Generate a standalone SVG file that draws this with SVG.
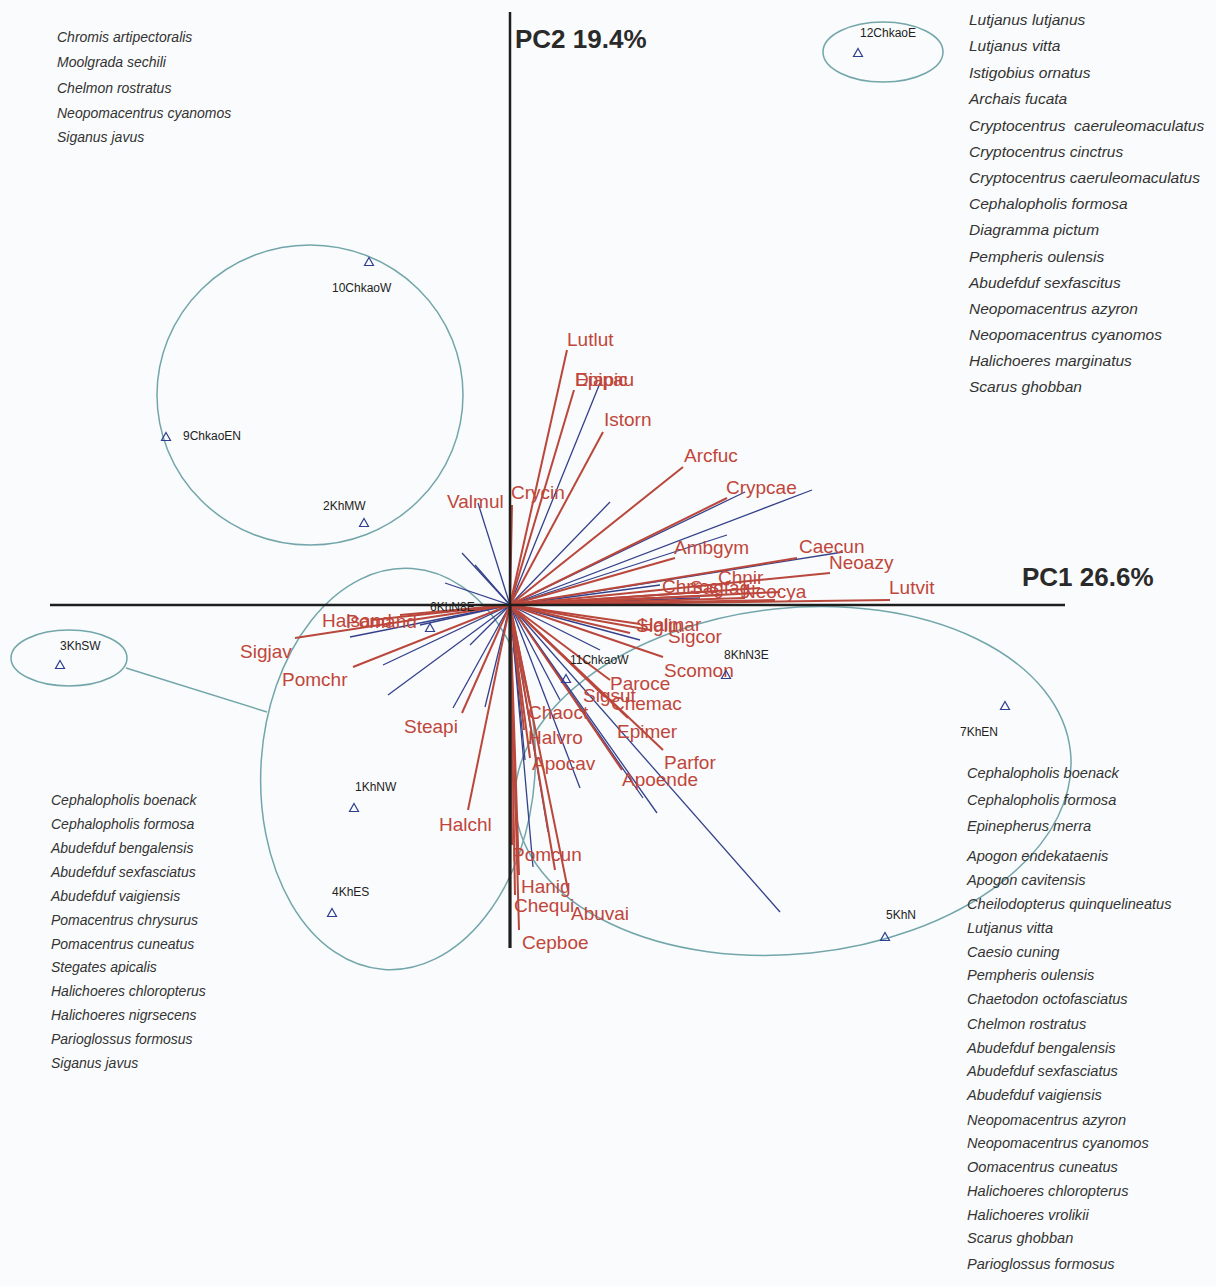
<svg xmlns="http://www.w3.org/2000/svg" xmlns:xlink="http://www.w3.org/1999/xlink" width="1216" height="1286" viewBox="0 0 1216 1286">
<style>
.bg{fill:#fafbfc}
.axis{stroke:#1e1e1e;stroke-width:2.5;fill:none}
.ell{fill:none;stroke:#72a6aa;stroke-width:1.5}
.rv{stroke:#b9473c;stroke-width:2}
.bv{stroke:#34418a;stroke-width:1.3}
.lab{font-family:"Liberation Sans",Arial,sans-serif;font-size:19px;fill:#c0463b}
.site{font-family:"Liberation Sans",Arial,sans-serif;font-size:12px;fill:#222}
.pc{font-family:"Liberation Sans",Arial,sans-serif;font-size:26px;font-weight:bold;fill:#2a2a2a}
.sp{font-family:"Liberation Sans",Arial,sans-serif;font-style:italic;font-size:14px;fill:#333}
.sp15{font-size:14.6px}
.sp16{font-size:15.5px}
.tri{fill:none;stroke:#2f3f8f;stroke-width:1.2}
</style>
<defs>
<path id="tri" class="tri" d="M0,-4.5 L4.5,3.5 L-4.5,3.5 Z"/>
</defs>
<rect class="bg" x="0" y="0" width="1216" height="1286"/>

<g id="groups">
<ellipse class="ell" cx="310" cy="395" rx="153" ry="150"/>
<ellipse class="ell" cx="883" cy="52" rx="60" ry="30"/>
<ellipse class="ell" cx="69" cy="658" rx="58" ry="28"/>
<line class="ell" x1="126" y1="668" x2="267" y2="712"/>
<ellipse class="ell" cx="398" cy="769" rx="137" ry="201" transform="rotate(4 398 769)"/>
<ellipse class="ell" cx="793" cy="781" rx="279" ry="173" transform="rotate(-6 793 781)"/>
</g>

<g id="connectors">
<!-- blue vectors -->
<line class="bv" x1="510" y1="605" x2="600" y2="383"/>
<line class="bv" x1="510" y1="605" x2="610" y2="502"/>
<line class="bv" x1="510" y1="605" x2="727" y2="535"/>
<line class="bv" x1="510" y1="605" x2="745" y2="492"/>
<line class="bv" x1="510" y1="605" x2="812" y2="490"/>
<line class="bv" x1="510" y1="605" x2="843" y2="552"/>
<line class="bv" x1="510" y1="605" x2="478" y2="503"/>
<line class="bv" x1="510" y1="605" x2="462" y2="553"/>
<line class="bv" x1="510" y1="605" x2="445" y2="583"/>
<line class="bv" x1="510" y1="605" x2="475" y2="565"/>
<line class="bv" x1="510" y1="605" x2="700" y2="598"/>
<line class="bv" x1="510" y1="605" x2="660" y2="585"/>
<line class="bv" x1="510" y1="605" x2="350" y2="637"/>
<line class="bv" x1="510" y1="605" x2="383" y2="665"/>
<line class="bv" x1="510" y1="605" x2="388" y2="695"/>
<line class="bv" x1="510" y1="605" x2="453" y2="708"/>
<line class="bv" x1="510" y1="605" x2="485" y2="707"/>
<line class="bv" x1="510" y1="605" x2="420" y2="625"/>
<line class="bv" x1="510" y1="605" x2="470" y2="645"/>
<line class="bv" x1="510" y1="605" x2="780" y2="912"/>
<line class="bv" x1="510" y1="605" x2="657" y2="813"/>
<line class="bv" x1="510" y1="605" x2="643" y2="798"/>
<line class="bv" x1="510" y1="605" x2="580" y2="788"/>
<line class="bv" x1="510" y1="605" x2="548" y2="832"/>
<line class="bv" x1="510" y1="605" x2="533" y2="867"/>
<line class="bv" x1="510" y1="605" x2="600" y2="650"/>
<line class="bv" x1="510" y1="605" x2="640" y2="640"/>
<line class="bv" x1="510" y1="605" x2="560" y2="700"/>
<line class="bv" x1="510" y1="605" x2="525" y2="760"/>
<!-- red vectors -->
<line class="rv" x1="510" y1="605" x2="567" y2="350"/>
<line class="rv" x1="510" y1="605" x2="574" y2="390"/>
<line class="rv" x1="510" y1="605" x2="603" y2="432"/>
<line class="rv" x1="510" y1="605" x2="683" y2="467"/>
<line class="rv" x1="510" y1="605" x2="727" y2="498"/>
<line class="rv" x1="510" y1="605" x2="512" y2="505"/>
<line class="rv" x1="510" y1="605" x2="675" y2="558"/>
<line class="rv" x1="510" y1="605" x2="797" y2="558"/>
<line class="rv" x1="510" y1="605" x2="830" y2="573"/>
<line class="rv" x1="510" y1="605" x2="890" y2="600"/>
<line class="rv" x1="510" y1="605" x2="760" y2="588"/>
<line class="rv" x1="510" y1="605" x2="780" y2="592"/>
<line class="rv" x1="510" y1="605" x2="700" y2="592"/>
<line class="rv" x1="510" y1="605" x2="720" y2="595"/>
<line class="rv" x1="510" y1="605" x2="745" y2="598"/>
<line class="rv" x1="510" y1="605" x2="655" y2="598"/>
<line class="rv" x1="510" y1="605" x2="775" y2="600"/>
<line class="rv" x1="510" y1="605" x2="640" y2="624"/>
<line class="rv" x1="510" y1="605" x2="650" y2="630"/>
<line class="rv" x1="510" y1="605" x2="630" y2="633"/>
<line class="rv" x1="510" y1="605" x2="663" y2="657"/>
<line class="rv" x1="510" y1="605" x2="610" y2="680"/>
<line class="rv" x1="510" y1="605" x2="605" y2="697"/>
<line class="rv" x1="510" y1="605" x2="628" y2="718"/>
<line class="rv" x1="510" y1="605" x2="663" y2="750"/>
<line class="rv" x1="510" y1="605" x2="622" y2="770"/>
<line class="rv" x1="510" y1="605" x2="530" y2="705"/>
<line class="rv" x1="510" y1="605" x2="524" y2="730"/>
<line class="rv" x1="510" y1="605" x2="530" y2="758"/>
<line class="rv" x1="510" y1="605" x2="468" y2="810"/>
<line class="rv" x1="510" y1="605" x2="462" y2="713"/>
<line class="rv" x1="510" y1="605" x2="353" y2="667"/>
<line class="rv" x1="510" y1="605" x2="295" y2="638"/>
<line class="rv" x1="510" y1="605" x2="372" y2="620"/>
<line class="rv" x1="510" y1="605" x2="400" y2="615"/>
<line class="rv" x1="510" y1="605" x2="440" y2="612"/>
<line class="rv" x1="510" y1="605" x2="512" y2="845"/>
<line class="rv" x1="510" y1="605" x2="519" y2="875"/>
<line class="rv" x1="510" y1="605" x2="515" y2="895"/>
<line class="rv" x1="510" y1="605" x2="568" y2="890"/>
<line class="rv" x1="510" y1="605" x2="519" y2="930"/>
<line class="rv" x1="510" y1="605" x2="555" y2="870"/>
</g>

<g id="axes">
<line class="axis" x1="50" y1="605" x2="1065" y2="605"/>
<line class="axis" x1="510" y1="12" x2="510" y2="605"/>
<line class="axis" x1="510" y1="605" x2="510" y2="948" style="stroke-width:3.2"/>
<text class="pc" x="515" y="48">PC2 19.4%</text>
<text class="pc" x="1022" y="586">PC1 26.6%</text>
</g>

<g id="species-labels">
<text class="lab" x="567" y="346">Lutlut</text>
<text class="lab" x="575" y="386">Diapic</text>
<text class="lab" x="575" y="386">Epipau</text>
<text class="lab" x="604" y="426">Istorn</text>
<text class="lab" x="684" y="462">Arcfuc</text>
<text class="lab" x="726" y="494">Crypcae</text>
<text class="lab" x="447" y="508">Valmul</text>
<text class="lab" x="511" y="499">Crycin</text>
<text class="lab" x="674" y="554">Ambgym</text>
<text class="lab" x="799" y="553">Caecun</text>
<text class="lab" x="829" y="569">Neoazy</text>
<text class="lab" x="889" y="594">Lutvit</text>
<text class="lab" x="718" y="584">Chnir</text>
<text class="lab" x="662" y="593">Chrros</text>
<text class="lab" x="690" y="594">Sagfag</text>
<text class="lab" x="742" y="598">Neocya</text>
<text class="lab" x="636" y="632">Siglin</text>
<text class="lab" x="640" y="631">Halmar</text>
<text class="lab" x="668" y="643">Sigcor</text>
<text class="lab" x="664" y="677">Scomon</text>
<text class="lab" x="610" y="690">Paroce</text>
<text class="lab" x="611" y="710">Chemac</text>
<text class="lab" x="583" y="702">Sigsut</text>
<text class="lab" x="528" y="719">Chaoct</text>
<text class="lab" x="528" y="744">Halvro</text>
<text class="lab" x="532" y="770">Apocav</text>
<text class="lab" x="617" y="738">Epimer</text>
<text class="lab" x="664" y="769">Parfor</text>
<text class="lab" x="622" y="786">Apoende</text>
<text class="lab" x="322" y="627">Halsand</text>
<text class="lab" x="346" y="628">Pomand</text>
<text class="lab" x="240" y="658">Sigjav</text>
<text class="lab" x="282" y="686">Pomchr</text>
<text class="lab" x="404" y="733">Steapi</text>
<text class="lab" x="439" y="831">Halchl</text>
<text class="lab" x="512" y="861">Pomcun</text>
<text class="lab" x="521" y="893">Hanig</text>
<text class="lab" x="514" y="912">Chequi</text>
<text class="lab" x="571" y="920">Abuvai</text>
<text class="lab" x="522" y="949">Cepboe</text>
</g>

<g id="site-12ChkaoE"><text class="site" x="860" y="37">12ChkaoE</text><use xlink:href="#tri" x="858" y="53"/></g>
<g id="site-10ChkaoW"><use xlink:href="#tri" x="369" y="262"/><text class="site" x="332" y="292">10ChkaoW</text></g>
<g id="site-9ChkaoEN"><use xlink:href="#tri" x="166" y="437"/><text class="site" x="183" y="440">9ChkaoEN</text></g>
<g id="site-2KhMW"><text class="site" x="323" y="510">2KhMW</text><use xlink:href="#tri" x="364" y="523"/></g>
<g id="site-6KhN8E"><text class="site" x="430" y="611">6KhN8E</text><use xlink:href="#tri" x="430" y="628"/></g>
<g id="site-3KhSW"><text class="site" x="60" y="650">3KhSW</text><use xlink:href="#tri" x="60" y="665"/></g>
<g id="site-11ChkaoW"><text class="site" x="570" y="664">11ChkaoW</text><use xlink:href="#tri" x="566" y="679"/></g>
<g id="site-8KhN3E"><text class="site" x="724" y="659">8KhN3E</text><use xlink:href="#tri" x="726" y="675"/></g>
<g id="site-7KhEN"><use xlink:href="#tri" x="1005" y="706"/><text class="site" x="960" y="736">7KhEN</text></g>
<g id="site-1KhNW"><text class="site" x="355" y="791">1KhNW</text><use xlink:href="#tri" x="354" y="808"/></g>
<g id="site-4KhES"><text class="site" x="332" y="896">4KhES</text><use xlink:href="#tri" x="332" y="913"/></g>
<g id="site-5KhN"><text class="site" x="886" y="919">5KhN</text><use xlink:href="#tri" x="885" y="937"/></g>

<g id="list-top-left" class="sp">
<text x="57" y="42">Chromis artipectoralis</text>
<text x="57" y="67">Moolgrada sechili</text>
<text x="57" y="93">Chelmon rostratus</text>
<text x="57" y="118">Neopomacentrus cyanomos</text>
<text x="57" y="142">Siganus javus</text>
</g>

<g id="list-top-right" class="sp sp16">
<text x="969" y="25">Lutjanus lutjanus</text>
<text x="969" y="51">Lutjanus vitta</text>
<text x="969" y="78">Istigobius ornatus</text>
<text x="969" y="104">Archais fucata</text>
<text x="969" y="131" xml:space="preserve">Cryptocentrus  caeruleomaculatus</text>
<text x="969" y="157">Cryptocentrus cinctrus</text>
<text x="969" y="183">Cryptocentrus caeruleomaculatus</text>
<text x="969" y="209">Cephalopholis formosa</text>
<text x="969" y="235">Diagramma pictum</text>
<text x="969" y="262">Pempheris oulensis</text>
<text x="969" y="288">Abudefduf sexfascitus</text>
<text x="969" y="314">Neopomacentrus azyron</text>
<text x="969" y="340">Neopomacentrus cyanomos</text>
<text x="969" y="366">Halichoeres marginatus</text>
<text x="969" y="392">Scarus ghobban</text>
</g>

<g id="list-bottom-left" class="sp">
<text x="51" y="805">Cephalopholis boenack</text>
<text x="51" y="829">Cephalopholis formosa</text>
<text x="51" y="853">Abudefduf bengalensis</text>
<text x="51" y="877">Abudefduf sexfasciatus</text>
<text x="51" y="901">Abudefduf vaigiensis</text>
<text x="51" y="925">Pomacentrus chrysurus</text>
<text x="51" y="949">Pomacentrus cuneatus</text>
<text x="51" y="972">Stegates apicalis</text>
<text x="51" y="996">Halichoeres chloropterus</text>
<text x="51" y="1020">Halichoeres nigrsecens</text>
<text x="51" y="1044">Parioglossus formosus</text>
<text x="51" y="1068">Siganus javus</text>
</g>

<g id="list-bottom-right" class="sp sp15">
<text x="967" y="778">Cephalopholis boenack</text>
<text x="967" y="805">Cephalopholis formosa</text>
<text x="967" y="831">Epinepherus merra</text>
<text x="967" y="861">Apogon endekataenis</text>
<text x="967" y="885">Apogon cavitensis</text>
<text x="967" y="909">Cheilodopterus quinquelineatus</text>
<text x="967" y="933">Lutjanus vitta</text>
<text x="967" y="957">Caesio cuning</text>
<text x="967" y="980">Pempheris oulensis</text>
<text x="967" y="1004">Chaetodon octofasciatus</text>
<text x="967" y="1029">Chelmon rostratus</text>
<text x="967" y="1053">Abudefduf bengalensis</text>
<text x="967" y="1076">Abudefduf sexfasciatus</text>
<text x="967" y="1100">Abudefduf vaigiensis</text>
<text x="967" y="1125">Neopomacentrus azyron</text>
<text x="967" y="1148">Neopomacentrus cyanomos</text>
<text x="967" y="1172">Oomacentrus cuneatus</text>
<text x="967" y="1196">Halichoeres chloropterus</text>
<text x="967" y="1220">Halichoeres vrolikii</text>
<text x="967" y="1243">Scarus ghobban</text>
<text x="967" y="1269">Parioglossus formosus</text>
</g>
</svg>
